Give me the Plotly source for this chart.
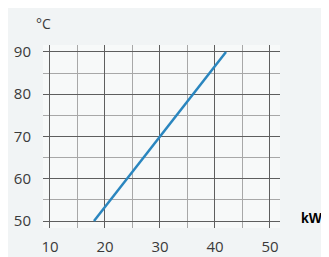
import plotly.graph_objects as go

power_kw = [18, 42]
temp_c = [50, 90]
x_ticks = [10, 20, 30, 40, 50]
y_ticks = [50, 60, 70, 80, 90]

fig = go.Figure()
fig.add_trace(go.Scatter(x=power_kw, y=temp_c, mode="lines",
                         line=dict(color="#2a86bf", width=2.5), showlegend=False))

font = dict(family="Open Sans, DejaVu Sans", size=15, color="#3a3a3a")
# page body adds an 8px offset, so the figure is 8px smaller and margins shifted
fig.update_layout(
    width=321, height=249,
    margin=dict(l=35, r=49, t=37, b=29),
    paper_bgcolor="#f1f4f5", plot_bgcolor="#f7f9f9",
    font=font,
    xaxis=dict(range=[8.73, 51.82], tickvals=x_ticks, showgrid=True, automargin=False,
               gridcolor="#5e5e5e", gridwidth=1.3, zeroline=False, showline=False,
               ticks="outside", ticklen=5, tickcolor="rgba(0,0,0,0)",
               minor=dict(dtick=5, tick0=0, showgrid=True, gridcolor="#a8a8a8", gridwidth=1)),
    yaxis=dict(range=[48.35, 91.65], tickvals=y_ticks, showgrid=True, automargin=False,
               gridcolor="#5e5e5e", gridwidth=1.3, zeroline=False, showline=False,
               ticks="outside", ticklen=8, tickcolor="rgba(0,0,0,0)",
               minor=dict(dtick=5, tick0=0, showgrid=True, gridcolor="#a8a8a8", gridwidth=1)),
    annotations=[
        dict(text="°C", xref="paper", yref="paper", x=0.0, xshift=-9, y=1.0, yshift=22,
             xanchor="left", yanchor="middle", showarrow=False,
             font=dict(family="Open Sans, DejaVu Sans", size=14, color="#3a3a3a")),
        dict(text="<b>kW</b>", xref="paper", yref="y", x=1.0, xshift=32, y=50.6,
             xanchor="center", yanchor="middle", showarrow=False,
             font=dict(family="Liberation Sans, Arial", size=14, color="#000000")),
    ],
)

fig.write_html("out.html")
